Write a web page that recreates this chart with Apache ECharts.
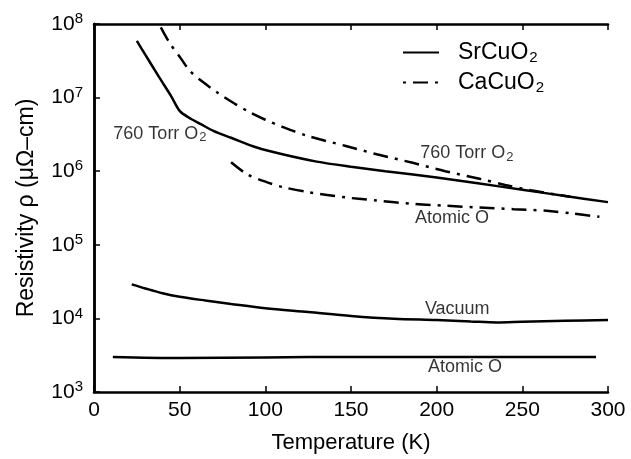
<!DOCTYPE html>
<html>
<head>
<meta charset="utf-8">
<script src="https://cdn.jsdelivr.net/npm/echarts@6/dist/echarts.min.js"></script>
<style>
  html, body { margin: 0; padding: 0; background: #fff; }
  #chart { width: 631px; height: 459px; }
</style>
</head>
<body>
<div id="chart"></div>
<script>
// SrCuO2, 760 Torr O2
var srO2T = [25, 30, 38, 45, 50, 55, 62, 70, 80, 95, 110, 130, 150, 170, 200, 225, 250, 275, 300];
var srO2R = [5.9e7, 3.8e7, 1.9e7, 1.05e7, 6.6e6, 5.4e6, 4.4e6, 3.5e6, 2.85e6, 2.1e6, 1.7e6, 1.35e6, 1.15e6, 1.0e6, 8.2e5, 6.8e5, 5.6e5, 4.6e5, 3.8e5];
// SrCuO2, vacuum
var srVacT = [22, 30, 40, 50, 65, 80, 100, 125, 150, 175, 200, 220, 235, 250, 275, 300];
var srVacR = [2.9e4, 2.55e4, 2.2e4, 1.97e4, 1.75e4, 1.57e4, 1.37e4, 1.22e4, 1.08e4, 9.9e3, 9.5e3, 9.1e3, 8.8e3, 9.0e3, 9.3e3, 9.5e3];
// SrCuO2, atomic O
var srAtT = [11, 50, 100, 150, 200, 250, 293];
var srAtR = [3.0e3, 2.9e3, 2.95e3, 3.0e3, 3.0e3, 3.0e3, 3.0e3];
// CaCuO2, 760 Torr O2
var caO2T = [39, 44, 50, 56, 64, 72, 82, 91, 100, 110, 125, 147, 165, 186, 205, 225, 240, 255, 270, 278];
var caO2R = [9.0e7, 5.6e7, 3.6e7, 2.3e7, 1.6e7, 1.17e7, 8.3e6, 6.3e6, 5.0e6, 4.0e6, 3.0e6, 2.2e6, 1.7e6, 1.3e6, 1.0e6, 7.9e5, 6.5e5, 5.5e5, 4.8e5, 4.5e5];
// CaCuO2, atomic O
var caAtT = [80, 89, 100, 110, 125, 147, 165, 186, 205, 225, 245, 264, 280, 295];
var caAtR = [1.32e6, 9.2e5, 7.2e5, 6.1e5, 5.2e5, 4.4e5, 4.0e5, 3.6e5, 3.4e5, 3.2e5, 3.05e5, 2.9e5, 2.65e5, 2.4e5];

// curve labels
var noteText = ['760 Torr O{sub|2}', '760 Torr O{sub|2}', 'Atomic O', 'Vacuum', 'Atomic O'];
var noteT = [38.5, 217.6, 209, 212, 216.5];
var noteR = [3.2e6, 1.74e6, 2.3e5, 1.33e4, 2.2e3];

var xTicks = [0, 50, 100, 150, 200, 250, 300];

function pairs(t, r) {
  return t.map(function (v, i) { return [v, r[i]]; });
}

var font = 'Liberation Sans';
var solid = { color: '#000', width: 2.5, type: 'solid' };
var dashDot = { color: '#000', width: 2.5, type: [15, 7, 3, 7] };

function mkLine(name, data, style) {
  return {
    name: name,
    type: 'line',
    data: data,
    symbol: 'none',
    smooth: 0.3,
    lineStyle: style,
    itemStyle: { color: '#000' }
  };
}

var chart = echarts.init(document.getElementById('chart'));
chart.setOption({
  backgroundColor: '#fff',
  animation: false,
  grid: { left: 94, right: 23, top: 24, bottom: 67 },
  legend: {
    left: 397, top: 36, orient: 'vertical',
    itemWidth: 36, itemHeight: 12, itemGap: 6,
    data: ['SrCuO2', 'CaCuO2'],
    itemStyle: { opacity: 0 },
    lineStyle: { dashOffset: 22 },
    textStyle: {
      fontFamily: font, fontSize: 23, color: '#000', padding: [0, 0, 0, 14],
      rich: { sub: { fontFamily: font, fontSize: 15, color: '#000', verticalAlign: 'bottom', padding: [10, 0, 0, 1] } }
    },
    formatter: function (n) { return n.replace('O2', 'O{sub|2}'); }
  },
  xAxis: [{
    type: 'value', min: 0, max: 300, interval: 50,
    name: 'Temperature (K)', nameLocation: 'middle', nameGap: 40,
    nameTextStyle: { fontFamily: font, fontSize: 22, color: '#000' },
    axisLine: { lineStyle: { color: '#000', width: 2.5 } },
    axisTick: { inside: true, length: 6, lineStyle: { color: '#000', width: 1.5 } },
    axisLabel: { color: '#000', fontFamily: font, fontSize: 21, margin: 8,
      formatter: function (v) { return xTicks.indexOf(v) >= 0 ? String(v) : ''; } },
    splitLine: { show: false }
  }, {
    type: 'value', min: 0, max: 300, interval: 50, position: 'top',
    axisLine: { lineStyle: { color: '#000', width: 2.5 } },
    axisTick: { inside: true, length: 6, lineStyle: { color: '#000', width: 1.5 } },
    axisLabel: { show: false }, splitLine: { show: false }
  }],
  yAxis: [{
    type: 'log', logBase: 10, min: 1e3, max: 1e8,
    name: 'Resistivity ρ (μΩ–cm)', nameLocation: 'middle', nameGap: 56,
    nameTextStyle: { fontFamily: font, fontSize: 23, color: '#000' },
    axisLine: { show: true, lineStyle: { color: '#000', width: 2.5 } },
    axisTick: { inside: true, length: 6, lineStyle: { color: '#000', width: 1.5 } },
    axisLabel: {
      color: '#000', fontFamily: font, fontSize: 21, margin: 11,
      formatter: function (v) { return '10{sup|' + Math.round(Math.log10(v)) + '}'; },
      rich: { sup: { fontFamily: font, fontSize: 15, color: '#000', verticalAlign: 'top', padding: [0, 0, 10, 0] } }
    },
    splitLine: { show: false }
  }, {
    type: 'log', logBase: 10, min: 1e3, max: 1e8, position: 'right',
    axisLine: { show: true, lineStyle: { color: '#000', width: 2.5 } },
    axisTick: { show: false }, axisLabel: { show: false }, splitLine: { show: false }
  }],
  series: [
    mkLine('SrCuO2', pairs(srO2T, srO2R), solid),
    mkLine('SrCuO2', pairs(srVacT, srVacR), solid),
    mkLine('SrCuO2', pairs(srAtT, srAtR), solid),
    mkLine('CaCuO2', pairs(caO2T, caO2R), dashDot),
    mkLine('CaCuO2', pairs(caAtT, caAtR), dashDot),
    {
      name: 'notes',
      type: 'scatter',
      symbolSize: 0,
      silent: true,
      data: noteT.map(function (t, i) { return { name: noteText[i], value: [t, noteR[i]] }; }),
      label: {
        show: true, position: 'inside', formatter: '{b}',
        color: '#000', fontFamily: font, fontSize: 18,
        rich: { sub: { fontFamily: font, fontSize: 13, color: '#000', verticalAlign: 'bottom', padding: [7, 0, 0, 1] } }
      }
    }
  ]
});
</script>
</body>
</html>
